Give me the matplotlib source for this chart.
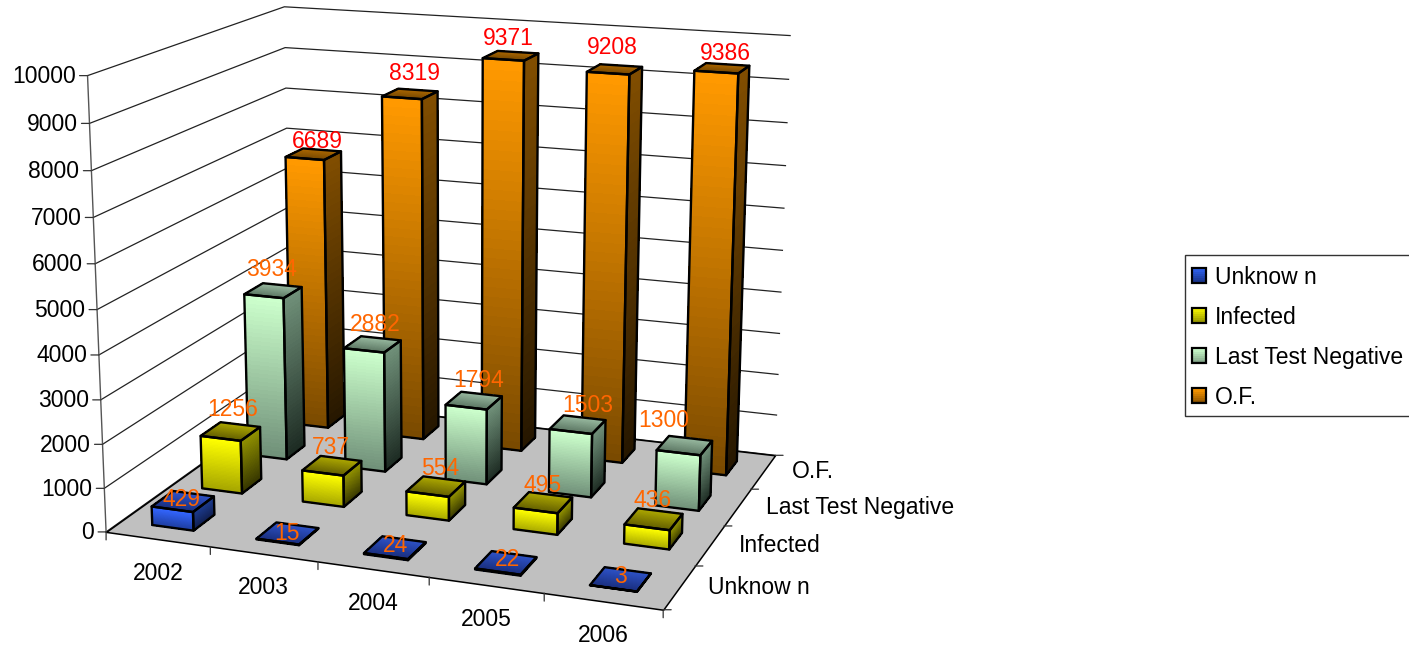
import numpy as np
import matplotlib
matplotlib.use('Agg')
import matplotlib.pyplot as plt
from matplotlib.colors import to_rgb
from matplotlib.legend_handler import HandlerBase
from matplotlib.patches import Patch, Rectangle
from mpl_toolkits.mplot3d import proj3d
from mpl_toolkits.mplot3d.art3d import Poly3DCollection

plt.rcParams['font.family'] = ['Liberation Sans', 'DejaVu Sans']

years = ['2002', '2003', '2004', '2005', '2006']
series = ['Unknow n', 'Infected', 'Last Test Negative', 'O.F.']
unknown = [429, 15, 24, 22, 3]
infected = [1256, 737, 554, 495, 436]
last_negative = [3934, 2882, 1794, 1503, 1300]
of = [6689, 8319, 9371, 9208, 9386]
z_ticks = list(range(0, 11000, 1000))

front_colors = [('#3366FF', '#1C3A99'), ('#FFFF00', '#A3A300'), ('#CCFFCC', '#6F8F78'), ('#FF9900', '#7A4A00')]
side_colors = [('#1C3A8C', '#0F1C4A'), ('#8F8F00', '#333300'), ('#6F8F78', '#1C2A22'), ('#804D00', '#261700')]
top_colors = [('#2F55CC', '#1A2F80'), ('#B3AD00', '#666200'), ('#9DBFA5', '#5F7A66'), ('#B36B00', '#7A4A00')]
label_colors = ['#FF6600', '#FF6600', '#FF6600', '#FF0000']
# pixel nudges of the value labels, Excel places them unevenly
label_dx = [[-1, -1, 1, 2, 0], [2, -1, 4, -1, -1], [-2, 3, 5, 10, -21], [4, 5, -2, -2, 3]]
label_dy = [[2, 0, 2, 3, 3], [22, 18, 18, 17, 19], [21, 20, 20, 19, 25], [13, 20, 17, 22, 15]]
n_strips = 40
bar_w = 0.40
bar_d = 0.42
font_size = 16.5

W, H = 1409, 647
fig = plt.figure(figsize=(W / 100, H / 100), dpi=100)
ax = fig.add_axes([31.10 / W, -55.68 / H, 825.78 / W, 825.78 / H], projection='3d')
ax.computed_zorder = False
ax.set_axis_off()
ax.set_xlim(0, 5)
ax.set_ylim(0, 4)
ax.set_zlim(0, 10000)
ax.view_init(15.1126, -69.8020, roll=0.0311)
ax.set_proj_type('persp', focal_length=0.5421)
ax.set_box_aspect((1, 0.7937, 0.8024))
M = ax.get_proj()


def to2d(x, y, z):
    xs, ys, _ = proj3d.proj_transform(np.array([x]), np.array([y]), np.array([z]), M)
    return float(xs[0]), float(ys[0])


def note(txt, x, y, z, dx=0, dy=0, **kw):
    ax.annotate(txt, xy=to2d(x, y, z), xycoords='data', xytext=(dx, dy), textcoords='offset pixels',
                annotation_clip=False, zorder=500, **kw)


def tick(x, y, z, dx, dy):
    ax.annotate('', xy=to2d(x, y, z), xycoords='data', xytext=(dx, dy), textcoords='offset pixels',
                annotation_clip=False, zorder=400,
                arrowprops=dict(arrowstyle='-', color='#333333', lw=0.9, shrinkA=0, shrinkB=0))


def ramp(c1, c2, n=n_strips):
    return np.linspace(to_rgb(c1), to_rgb(c2), n)


def draw_bar(i, j, h, order):
    x_a, x_b = i + 0.5 - bar_w / 2, i + 0.5 + bar_w / 2
    y_a, y_b = j + 0.5 - bar_d / 2, j + 0.5 + bar_d / 2
    zz = np.linspace(h, 0, n_strips + 1)
    yy = np.linspace(y_b, y_a, n_strips + 1)
    polys, cols = [], []
    for k in range(n_strips):
        polys.append([(x_a, y_a, zz[k]), (x_b, y_a, zz[k]), (x_b, y_a, zz[k + 1]), (x_a, y_a, zz[k + 1])])
        polys.append([(x_b, y_a, zz[k]), (x_b, y_b, zz[k]), (x_b, y_b, zz[k + 1]), (x_b, y_a, zz[k + 1])])
        polys.append([(x_a, yy[k], h), (x_b, yy[k], h), (x_b, yy[k + 1], h), (x_a, yy[k + 1], h)])
        cols += [ramp(*front_colors[j])[k], ramp(*side_colors[j])[k], ramp(*top_colors[j])[k]]
    col = Poly3DCollection(polys, facecolors=cols, edgecolors=cols, linewidths=0.5)
    col.set_antialiased(False)
    col.set_zorder(order)
    col.set_clip_on(False)
    ax.add_collection3d(col, autolim=False)
    outline = Poly3DCollection([
        [(x_a, y_a, 0), (x_b, y_a, 0), (x_b, y_a, h), (x_a, y_a, h)],
        [(x_b, y_a, 0), (x_b, y_b, 0), (x_b, y_b, h), (x_b, y_a, h)],
        [(x_a, y_a, h), (x_b, y_a, h), (x_b, y_b, h), (x_a, y_b, h)]],
        facecolors=(0, 0, 0, 0), edgecolors='black', linewidths=1.7)
    outline.set_zorder(order + 0.5)
    outline.set_clip_on(False)
    ax.add_collection3d(outline, autolim=False)


class GradientSquare(HandlerBase):
    def create_artists(self, legend, orig, xd, yd, width, height, fontsize, trans):
        c1, c2 = orig.gradient
        parts = [Rectangle((-xd, -yd + height * (1 - (k + 1) / 8)), width, height / 8,
                           facecolor=col, edgecolor='none', transform=trans)
                 for k, col in enumerate(ramp(c1, c2, 8))]
        parts.append(Rectangle((-xd, -yd), width, height, facecolor='none', edgecolor='black', lw=1.6, transform=trans))
        return parts


floor = Poly3DCollection([[(0, 0, 0), (5, 0, 0), (5, 4, 0), (0, 4, 0)]], facecolors='#C0C0C0', edgecolors='black', linewidths=1.1)
floor.set_zorder(2)
floor.set_clip_on(False)
ax.add_collection3d(floor, autolim=False)

for z in z_ticks:
    ax.plot([0, 0, 5], [0, 4, 4], [z, z, z], color='#222222', lw=0.9, zorder=1, clip_on=False)
    tick(0, 0, z, -8, 0)
    note(str(z), 0, 0, z, -12, -1, ha='right', va='center', fontsize=font_size)
ax.plot([0, 0], [0, 0], [0, 10000], color='#555555', lw=1.0, zorder=1, clip_on=False)

for i in range(6):
    tick(i, 0, 0, 0, -8)
for j in range(5):
    tick(5, j, 0, 8, 0)
for i, yr in enumerate(years):
    note(yr, i + 0.5, 0, 0, 0, -34, ha='center', va='center', fontsize=font_size)
for j, name in enumerate(series):
    note(name, 5, j + 0.5, 0, 29, 0, ha='left', va='center', fontsize=font_size)

values = [unknown, infected, last_negative, of]
order = 10
for j in range(3, -1, -1):
    for i in range(5):
        draw_bar(i, j, values[j][i], order)
        order += 1
        note(str(values[j][i]), i + 0.5, j + 0.5, values[j][i], label_dx[j][i], label_dy[j][i], ha='center', va='center',
             fontsize=font_size, color=label_colors[j])

handles = []
for c in [('#2F62F0', '#173080'), ('#F5F500', '#8F8F00'), ('#CCFFCC', '#7FA085'), ('#FF9900', '#8A5200')]:
    h = Patch()
    h.gradient = c
    handles.append(h)
fig.add_artist(Rectangle((1185 / W, 1 - 416 / H), 300 / W, 161 / H, transform=fig.transFigure,
                         facecolor='white', edgecolor='#333333', lw=1.0))
fig.legend(handles, series, loc='upper left', bbox_to_anchor=(1192 / W, 1 - 266 / H), borderaxespad=0, borderpad=0,
           fontsize=font_size, frameon=False, handlelength=0.63, handleheight=0.63,
           handletextpad=0.37, labelspacing=0.74, handler_map={Patch: GradientSquare()})

fig.savefig('out.png', dpi=100)
